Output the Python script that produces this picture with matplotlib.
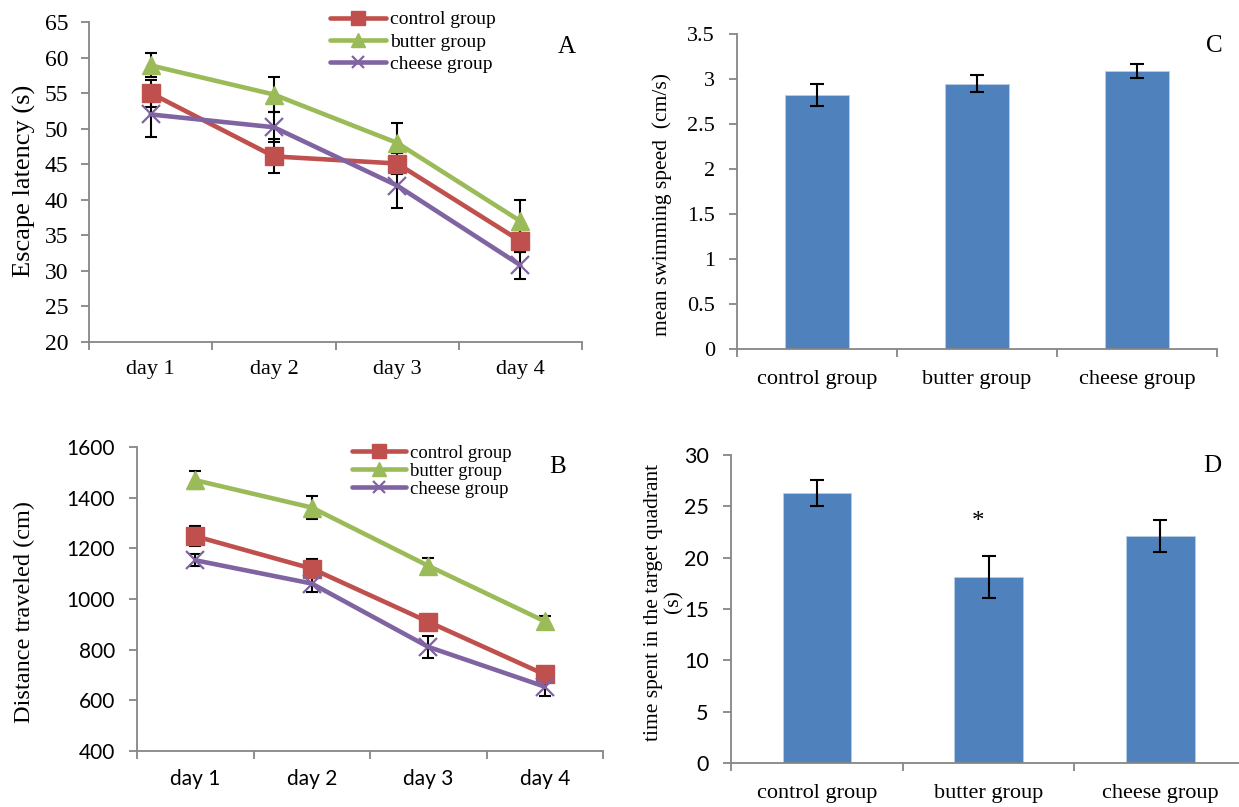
import numpy as np
import matplotlib as mpl; mpl.use("Agg")
import matplotlib.pyplot as plt
from matplotlib.ticker import FuncFormatter

W, H = 1239, 807
SERIF = "Liberation Serif"
SANS = "Lato"
RED = "#C0504D"
GREEN = "#9BBB59"
PURPLE = "#8064A2"
BLUE = "#4F81BD"
SPINE = "#868686"

days = ["day 1", "day 2", "day 3", "day 4"]
groups = ["control group", "butter group", "cheese group"]

# (A) escape latency, s
lat_control = [55.0, 46.1, 45.1, 34.2]
lat_butter = [58.9, 54.8, 48.0, 37.0]
lat_cheese = [52.0, 50.2, 42.0, 30.8]
lat_control_err = [1.9, 2.4, 1.5, 1.5]
lat_butter_err = [1.7, 2.4, 2.8, 2.9]
lat_cheese_err = [3.2, 2.1, 3.1, 1.9]

# (B) distance traveled, cm
dist_control = [1248, 1120, 910, 702]
dist_butter = [1469, 1361, 1131, 912]
dist_cheese = [1153, 1061, 811, 654]
dist_control_err = [39, 36, 20, 20]
dist_butter_err = [36, 44, 29, 22]
dist_cheese_err = [23, 33, 42, 37]

# (C) mean swimming speed, cm/s
speed = [2.82, 2.95, 3.09]
speed_err = [0.12, 0.09, 0.08]

# (D) time in target quadrant, s
target_time = [26.3, 18.1, 22.1]
target_time_err = [1.27, 2.05, 1.55]


fig = plt.figure(figsize=(W / 100, H / 100), dpi=100)


def px_axes(x0, y0, x1, y1):
    return fig.add_axes([x0 / W, 1 - y1 / H, (x1 - x0) / W, (y1 - y0) / H])


def fig_text(x, y, s, **kw):
    return fig.text(x / W, 1 - y / H, s, **kw)


def style(ax, labels, yfont, yfs, ypad, xfont, xfs, xpad=13):
    n = len(labels)
    for s in ("top", "right"):
        ax.spines[s].set_visible(False)
    for s in ("left", "bottom"):
        ax.spines[s].set_color(SPINE)
        ax.spines[s].set_linewidth(1.3)
    ax.set_xlim(-0.5, n - 0.5)
    ax.set_xticks(np.arange(n + 1) - 0.5)
    ax.set_xticklabels([])
    ax.set_xticks(np.arange(n), minor=True)
    ax.set_xticklabels(labels, minor=True, fontfamily=xfont, fontsize=xfs)
    ax.tick_params(axis="x", which="major", direction="out", length=6,
                   color=SPINE, width=1.3)
    ax.tick_params(axis="x", which="minor", length=0, pad=xpad)
    ax.tick_params(axis="y", direction="out", length=6, color=SPINE,
                   width=1.3, pad=ypad)
    for t in ax.get_yticklabels():
        t.set_fontfamily(yfont)
        t.set_fontsize(yfs)
    ax.yaxis.set_major_formatter(FuncFormatter(lambda v, p: f"{v:g}"))


def lines(ax, c, b, ch, ce, be, che):
    x = np.arange(len(days))
    for y, e in ((c, ce), (b, be), (ch, che)):
        ax.errorbar(x, y, yerr=e, fmt="none", ecolor="black", elinewidth=1.5,
                    capsize=4, capthick=1.5, zorder=2)
    kw = dict(lw=3.3, solid_capstyle="round", solid_joinstyle="round", zorder=3)
    h1, = ax.plot(x, c, color=RED, marker="s", ms=13.5, label=groups[0], **kw)
    h2, = ax.plot(x, b, color=GREEN, marker="^", ms=13.5, label=groups[1], **kw)
    h3, = ax.plot(x, ch, color=PURPLE, marker="x", ms=13, mew=1.6,
                  label=groups[2], **kw)
    return [h1, h2, h3]


def legend(ax, handles, x, y, fs, spacing):
    ax.legend(handles=handles, loc="center left",
              bbox_to_anchor=(x / W, 1 - y / H), bbox_transform=fig.transFigure,
              frameon=False, borderpad=0, borderaxespad=0, handlelength=2.9,
              handletextpad=0.2, labelspacing=spacing, markerscale=0.7,
              prop=dict(family=SERIF, size=fs))


# ---- Panel A ----
axA = px_axes(89, 22, 582, 342)
hA = lines(axA, lat_control, lat_butter, lat_cheese,
           lat_control_err, lat_butter_err, lat_cheese_err)
axA.set_ylim(20, 65)
axA.set_yticks(np.arange(20, 66, 5))
style(axA, days, SERIF, 17, 9, SERIF, 16)
legend(axA, hA, 330, 42, 14, 0.25)
fig_text(24, 181, "Escape latency (s)", rotation=90, ha="center", va="center",
         fontfamily=SERIF, fontsize=19)
fig_text(567, 47, "A", ha="center", va="center", fontfamily=SERIF, fontsize=18)

# ---- Panel B ----
axB = px_axes(137, 447, 603, 751)
hB = lines(axB, dist_control, dist_butter, dist_cheese,
           dist_control_err, dist_butter_err, dist_cheese_err)
axB.set_ylim(400, 1600)
axB.set_yticks(np.arange(400, 1601, 200))
style(axB, days, SANS, 15, 10, SANS, 15)
legend(axB, hB, 352, 471, 13.5, 0.05)
fig_text(24, 612, "Distance traveled (cm)", rotation=90, ha="center",
         va="center", fontfamily=SERIF, fontsize=17.5)
fig_text(558, 467, "B", ha="center", va="center", fontfamily=SERIF, fontsize=18)

# ---- Panel C ----
axC = px_axes(737, 34, 1217, 349)
xg = np.arange(len(groups))
axC.bar(xg, speed, width=0.4, color=BLUE, edgecolor="#B9CDE5", lw=0.6, zorder=2)
axC.errorbar(xg, speed, yerr=speed_err, fmt="none", ecolor="black",
             elinewidth=1.5, capsize=5, capthick=1.5, zorder=3)
axC.set_ylim(0, 3.5)
axC.set_yticks(np.arange(0, 3.51, 0.5))
style(axC, groups, SERIF, 16, 10, SERIF, 16, xpad=15)
fig_text(662, 205, "mean swimming speed  (cm/s)", rotation=90, ha="center",
         va="center", fontfamily=SERIF, fontsize=15.5)
fig_text(1214, 46, "C", ha="center", va="center", fontfamily=SERIF, fontsize=18)

# ---- Panel D ----
axD = px_axes(731, 455, 1246, 763)
axD.bar(xg, target_time, width=0.4, color=BLUE, edgecolor="#B9CDE5", lw=0.6,
        zorder=2)
axD.errorbar(xg, target_time, yerr=target_time_err, fmt="none", ecolor="black",
             elinewidth=1.5, capsize=5, capthick=1.5, zorder=3)
axD.set_ylim(0, 30)
axD.set_yticks(np.arange(0, 31, 5))
style(axD, groups, SANS, 15.5, 10, SERIF, 16, xpad=15)
axD.text(1 - 0.06, 23.5, "*", ha="center", va="center", fontfamily=SERIF,
         fontsize=18)
fig_text(664, 602, "time spent in the target quadrant\n(s)", rotation=90,
         ha="center", va="center", multialignment="center",
         fontfamily=SERIF, fontsize=15.5, linespacing=1.1)
fig_text(1212, 466, "D", ha="center", va="center", fontfamily=SERIF, fontsize=18)

fig.savefig("out.png", dpi=100, facecolor="white")
